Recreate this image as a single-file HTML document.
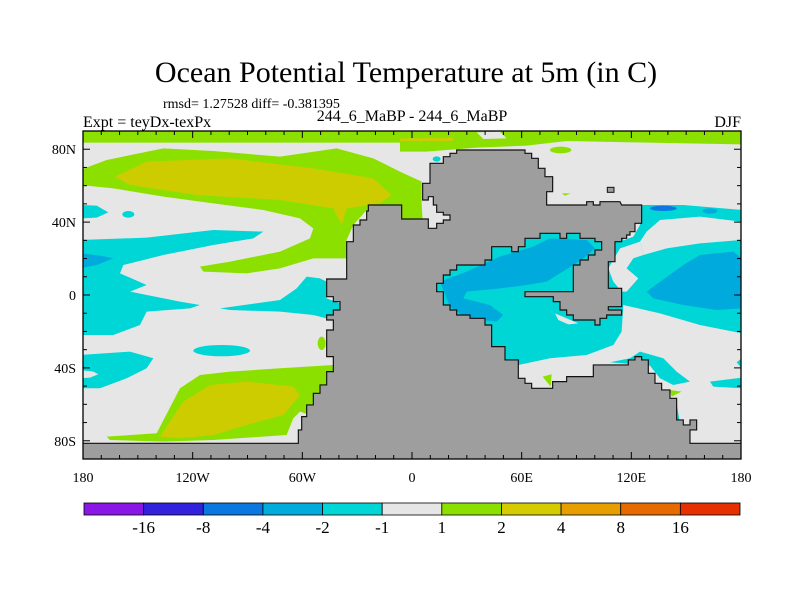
<!DOCTYPE html>
<html><head><meta charset="utf-8">
<style>
html,body{margin:0;padding:0;background:#fff;}
svg{display:block;font-family:"Liberation Serif",serif;}
</style></head>
<body>
<svg id="chart" width="800" height="600" viewBox="0 0 800 600" xmlns="http://www.w3.org/2000/svg">
<defs><clipPath id="plotclip"><rect x="83" y="131" width="658" height="328"/></clipPath></defs>
<text x="406" y="82" font-size="30" text-anchor="middle">Ocean Potential Temperature at 5m (in C)</text>
<text x="163" y="108" font-size="14">rmsd= 1.27528 diff= -0.381395</text>
<text x="83" y="127" font-size="16">Expt = teyDx-texPx</text>
<text x="412" y="121" font-size="16" text-anchor="middle">244_6_MaBP - 244_6_MaBP</text>
<text x="741" y="127" font-size="16" text-anchor="end">DJF</text>

<g clip-path="url(#plotclip)">
<rect x="83" y="131" width="658" height="328" fill="#e6e6e6"/>
<g transform="translate(80,125) scale(0.3333)">
<rect x="0" y="15" width="1025" height="38" fill="#8ce000"/>
<path fill="#8ce000" d="M0,135 L80,105 L250,70 L400,78 L600,95 L770,70 L880,100 L960,140 L1025,170 L1025,265 L960,240 L860,255 L820,300 L800,345 L800,400 L700,400 L600,430 L500,445 L370,440 L360,425 L450,410 L600,380 L690,340 L700,310 L660,280 L550,255 L400,235 L250,215 L100,190 L0,180Z"/>
<path fill="#cccc00" d="M105,155 L200,110 L450,100 L700,130 L880,160 L935,210 L900,235 L800,250 L785,300 L760,250 L600,225 L350,210 L150,180Z"/>
<path fill="#00d6d6" d="M0,240 L50,242 L85,262 L50,278 L0,280Z"/>
<ellipse cx="145" cy="268" rx="18" ry="10" fill="#00d6d6"/>
<path fill="#00d6d6" d="M0,345 L200,338 L400,315 L550,320 L520,340 L400,360 L250,390 L130,420 L120,445 L200,480 L150,500 L300,530 L360,540 L330,550 L200,560 L180,600 L100,630 L0,630Z"/>
<path fill="#00aadc" d="M0,385 L60,392 L100,400 L50,420 L0,430Z"/>
<path fill="#00d6d6" d="M420,550 L600,525 L650,490 L680,455 L720,460 L740,470 L740,520 L780,535 L780,555 L740,580 L700,570 L600,560 L450,555Z"/>
<ellipse cx="425" cy="677" rx="85" ry="17" fill="#00d6d6"/>
<path fill="#00d6d6" d="M0,690 L150,680 L220,700 L200,730 L140,760 L60,790 L0,790Z"/>
<path fill="#e6e6e6" d="M0,735 L40,740 L55,748 L30,758 L0,760Z"/>
<ellipse cx="725" cy="655" rx="12" ry="20" fill="#8ce000"/>
<path fill="#8ce000" d="M80,935 L230,925 L300,790 L360,750 L450,740 L600,730 L760,720 L760,780 L740,800 L700,830 L690,870 L660,860 L640,880 L620,930 L400,945 L250,950 L90,945Z"/>
<path fill="#cccc00" d="M240,935 L310,830 L390,780 L500,770 L640,785 L660,810 L610,870 L500,900 L400,930 L300,940Z"/>
</g>
<g transform="translate(400,125) scale(0.3333)">
<path fill="#8ce000" d="M0,15 L1025,15 L1025,58 L700,52 L500,48 L380,62 L230,68 L80,80 L0,80Z"/>
<path fill="#e6e6e6" d="M230,22 L300,20 L320,40 L250,42Z"/>
<path fill="#cccc00" d="M0,40 L160,38 L160,48 L0,48Z"/>
<path fill="#8ce000" d="M0,150 L60,170 L68,285 L0,285Z"/>
<ellipse cx="482" cy="75" rx="32" ry="10" fill="#8ce000"/>
<ellipse cx="110" cy="102" rx="12" ry="8" fill="#00d6d6"/>
<path fill="#00d6d6" d="M100,320 L670,320 L670,540 L665,620 L640,660 L560,690 L450,700 L355,720 L300,700 L100,600Z"/>
<path fill="#00aadc" d="M120,470 L200,440 L300,395 L400,365 L450,340 L560,345 L585,370 L550,400 L520,420 L440,470 L380,480 L300,490 L200,500 L190,520 L270,540 L310,570 L290,590 L200,580 L150,545Z"/>
<path fill="#00aadc" d="M460,500 L580,500 L580,555 L540,555 L500,530Z"/>
<path fill="#e6e6e6" d="M465,565 L500,580 L535,595 L505,598 L475,585Z"/>
<path fill="#00d6d6" d="M725,240 L850,240 L1025,255 L1025,290 L900,275 L780,285 L740,320 L720,350 L730,390 L800,370 L900,355 L1025,345 L1025,625 L900,600 L780,565 L670,540 L665,500 L665,420 L650,360 L660,350 L700,335 L720,300Z"/>
<path fill="#e6e6e6" d="M625,430 L660,370 L720,350 L730,390 L700,400 L680,430 L715,460 L680,500 L665,500 L640,470Z"/>
<path fill="#00aadc" d="M740,500 L850,420 L900,390 L1000,380 L1025,400 L1025,550 L950,555 L850,540 L760,520Z"/>
<ellipse cx="790" cy="250" rx="40" ry="8" fill="#0a78e0"/>
<ellipse cx="930" cy="258" rx="22" ry="8" fill="#00aadc"/>
<path fill="#00d6d6" d="M630,712 L690,700 L720,680 L790,700 L830,740 L870,770 L820,780 L780,760 L750,722Z"/>
<path fill="#00d6d6" d="M800,840 L830,835 L840,895 L815,890Z"/>
<path fill="#00d6d6" d="M930,770 L1025,758 L1025,790 L940,785Z"/>
<path fill="#00d6d6" d="M1010,712 L1025,700 L1025,730Z"/>
<path fill="#8ce000" d="M810,795 L845,800 L815,815Z"/>
<path fill="#8ce000" d="M428,755 L455,748 L452,785Z"/>
<path fill="#8ce000" d="M485,205 L512,205 L495,212Z"/>
</g>
<g transform="translate(400,125) scale(0.3333)">
<path fill="#9e9e9e" stroke="#111" stroke-width="3.5" stroke-linejoin="miter" d="M-960,1010 L-960,955 L-305,955 L-305,915 L-295,915 L-295,875 L-280,875 L-280,840 L-260,840 L-260,805 L-240,805 L-240,780 L-220,780 L-220,740 L-200,740 L-200,695 L-220,695 L-220,615 L-200,615 L-200,585 L-220,585 L-220,570 L-200,570 L-200,555 L-180,555 L-180,530 L-200,530 L-200,515 L-220,515 L-220,462 L-160,462 L-160,350 L-140,350 L-140,300 L-120,300 L-120,285 L-100,285 L-100,258 L-95,258 L-95,240 L5,240 L5,282 L85,282 L85,310 L110,310 L110,295 L130,295 L130,285 L150,285 L150,270 L130,270 L130,262 L110,262 L110,240 L100,240 L100,215 L85,215 L85,225 L68,225 L68,175 L90,175 L90,115 L130,115 L130,95 L150,95 L150,85 L170,85 L170,75 L375,75 L375,85 L395,85 L395,100 L415,100 L415,130 L435,130 L435,155 L458,155 L458,200 L440,200 L440,240 L560,240 L560,230 L580,230 L580,240 L600,240 L600,230 L660,230 L665,240 L725,240 L725,295 L705,295 L705,320 L690,320 L690,330 L680,330 L680,340 L665,340 L665,350 L645,350 L645,410 L625,410 L625,490 L665,490 L665,545 L625,545 L625,555 L665,555 L665,570 L620,570 L620,580 L600,580 L600,600 L585,600 L585,585 L520,585 L520,570 L500,570 L500,555 L480,555 L480,530 L460,530 L460,515 L375,515 L375,500 L520,500 L520,420 L540,420 L540,405 L565,405 L565,390 L585,390 L585,375 L605,375 L605,350 L585,350 L585,340 L540,340 L540,325 L500,325 L500,340 L480,340 L480,325 L420,325 L420,340 L375,340 L375,365 L355,365 L355,380 L335,380 L335,365 L275,365 L275,405 L255,405 L255,420 L170,420 L170,435 L150,435 L150,450 L130,450 L130,475 L110,475 L110,500 L130,500 L130,540 L150,540 L150,555 L170,555 L170,570 L210,570 L210,580 L255,580 L255,600 L275,600 L275,665 L315,665 L315,705 L355,705 L355,760 L375,760 L375,775 L395,775 L395,790 L458,790 L458,770 L500,770 L500,755 L580,755 L580,720 L685,720 L685,705 L705,705 L705,695 L725,695 L725,705 L745,705 L745,745 L765,745 L765,775 L785,775 L785,795 L810,795 L810,820 L830,820 L830,885 L850,885 L850,900 L870,900 L870,885 L890,885 L890,915 L870,915 L870,955 L1030,955 L1030,1010Z"/>
<rect x="622" y="187" width="20" height="15" fill="#9e9e9e" stroke="#111" stroke-width="3"/>
</g>
</g>
<rect x="83" y="131" width="658" height="328" fill="none" stroke="#000" stroke-width="1.3"/>
<g id="axes"></g>
<g id="colorbar"></g>
<script>
const lonTickValues = [-180, -120, -60, 0, 60, 120, 180];
const lonTickLabels = ["180", "120W", "60W", "0", "60E", "120E", "180"];
const latTickValues = [80, 40, 0, -40, -80];
const latTickLabels = ["80N", "40N", "0", "40S", "80S"];
const levelLabels = ["-16", "-8", "-4", "-2", "-1", "1", "2", "4", "8", "16"];
const levelColors = ["#8a17e6", "#3322dd", "#0a78e0", "#00acdc", "#00d6d6", "#e6e6e6", "#8ce000", "#d4cc00", "#e69e00", "#e66a00", "#e63000"];

const X0 = 83, X1 = 741, Y0 = 131, Y1 = 459;
function xs(lon){ return X0 + (lon + 180) / 360 * (X1 - X0); }
function ys(lat){ return Y0 + (90 - lat) / 180 * (Y1 - Y0); }
const NS = "http://www.w3.org/2000/svg";
const axes = document.getElementById('axes');
function mk(tag, attrs, parent){
  const e = document.createElementNS(NS, tag);
  for (const k in attrs) e.setAttribute(k, attrs[k]);
  parent.appendChild(e); return e;
}
for (let lon = -180; lon <= 180; lon += 10) {
  const major = lon % 60 === 0;
  const len = major ? 7 : 4;
  const t1 = mk('line', {x1: xs(lon), x2: xs(lon), y1: Y1, y2: Y1 - len, stroke: '#000', 'stroke-width': 1}, axes);
  
  
  const t2 = mk('line', {x1: xs(lon), x2: xs(lon), y1: Y0, y2: Y0 + len, stroke: '#000', 'stroke-width': 1}, axes);
  
  
}
for (let lat = -90; lat <= 90; lat += 10) {
  const major = lat % 40 === 0;
  const len = major ? 7 : 4;
  const t1 = mk('line', {x1: X0, x2: X0 + len, y1: ys(lat), y2: ys(lat), stroke: '#000', 'stroke-width': 1}, axes);
  
  
  const t2 = mk('line', {x1: X1, x2: X1 - len, y1: ys(lat), y2: ys(lat), stroke: '#000', 'stroke-width': 1}, axes);
  
  
}
lonTickValues.forEach((v, i) => {
  const t = mk('text', {x: xs(v), y: 482, 'font-size': 14, 'text-anchor': 'middle'}, axes);
  t.textContent = lonTickLabels[i];
  
  
});
latTickValues.forEach((v, i) => {
  const t = mk('text', {x: 76, y: ys(v) + 5, 'font-size': 14, 'text-anchor': 'end'}, axes);
  t.textContent = latTickLabels[i];
  
  
});
const cb = document.getElementById('colorbar');
const CB0 = 84, CB1 = 740, CBY = 503, CBH = 12;
const bw = (CB1 - CB0) / levelColors.length;
levelColors.forEach((c, i) => {
  const r = mk('rect', {x: CB0 + i * bw, y: CBY, width: bw, height: CBH, fill: c, stroke: '#000', 'stroke-width': 0.8}, cb);
  
  
});
levelLabels.forEach((l, i) => {
  const t = mk('text', {x: CB0 + (i + 1) * bw, y: 533, 'font-size': 17, 'text-anchor': 'middle'}, cb);
  t.textContent = l;
  
  
});
</script>
</svg>
</body></html>
